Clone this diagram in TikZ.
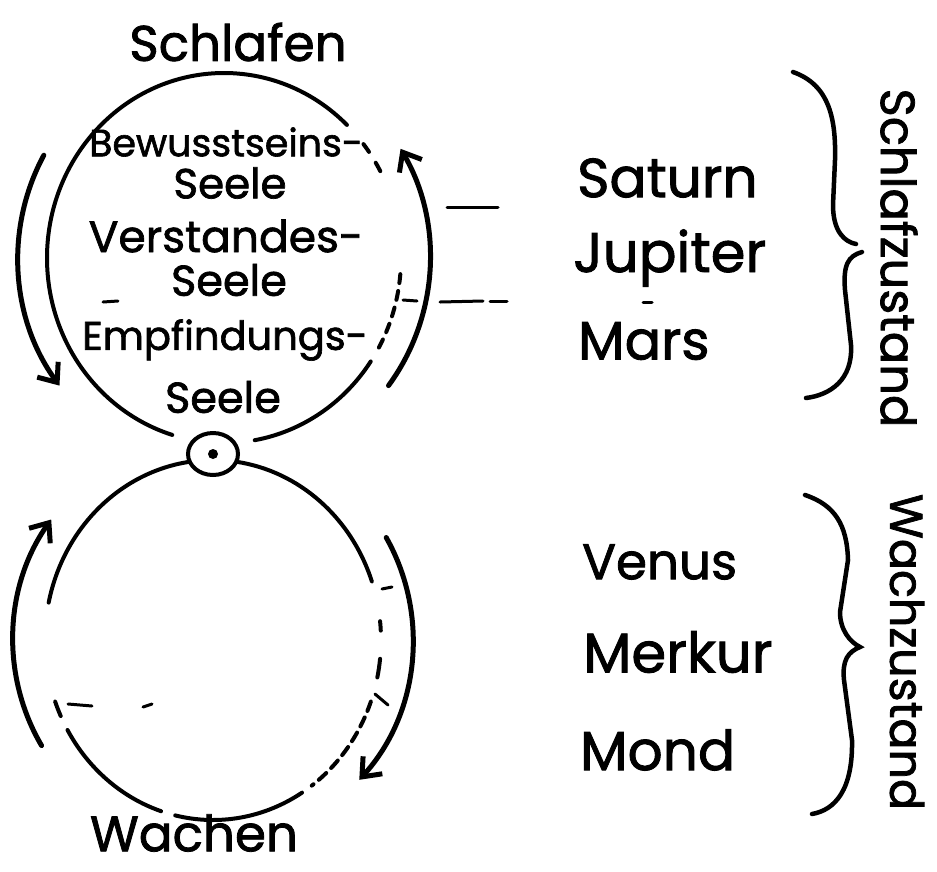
\documentclass[tikz,border=0pt]{standalone}
\usepackage{fontspec}
\newfontfamily\hand{Poppins}[FakeBold=1.6]
\usetikzlibrary{positioning,arrows.meta,shapes.geometric}

\begin{document}
\begin{tikzpicture}[x=1pt, y=-1pt, line cap=round,
  hw/.style={font=\hand\fontsize{#1}{#1}\selectfont, inner sep=0pt},
  ring/.style={line width=4pt},
  arr/.style={line width=5pt, -{Straight Barb[length=16pt, width=26pt]}},
  tickline/.style={line width=3pt},
  curly/.style={line width=4.5pt}]
\useasboundingbox (0,0) rectangle (937,871);
\coordinate (up) at (224,258);
\coordinate (lo) at (213,640);
\node[draw, ring, ellipse, minimum width=50pt, minimum height=42pt, inner sep=0pt] (eye) at (213,454) {};
\fill (eye.center) circle[radius=5];

% upper ring
\draw[ring] (up) ++(-46:177 and 185) arc[start angle=-46, end angle=-253, x radius=177, y radius=185];
\draw[ring] (up) ++(-38:177 and 185) arc[start angle=-38, end angle=-35, x radius=177, y radius=185];
\draw[ring] (up) ++(-31:177 and 185) arc[start angle=-31, end angle=-28, x radius=177, y radius=185];
\draw[ring, dash pattern=on 9pt off 8pt] (up) ++(5:177 and 185) arc[start angle=5, end angle=30, x radius=177, y radius=185];
\draw[ring] (up) ++(34:177 and 185) arc[start angle=34, end angle=80, x radius=177, y radius=185];

% lower ring
\draw[ring] (lo) ++(-98:168 and 180) arc[start angle=-98, end angle=-168, x radius=168, y radius=180];
\draw[ring] (lo) ++(155:168 and 180) arc[start angle=155, end angle=160, x radius=168, y radius=180];
\draw[ring] (lo) ++(108:168 and 180) arc[start angle=108, end angle=150, x radius=168, y radius=180];
\draw[ring] (lo) ++(58:168 and 180) arc[start angle=58, end angle=103, x radius=168, y radius=180];
\draw[ring, dash pattern=on 10pt off 7pt] (lo) ++(20:168 and 180) arc[start angle=20, end angle=54, x radius=168, y radius=180];
\draw[ring] (lo) ++(-6:168 and 180) arc[start angle=-6, end angle=-3, x radius=168, y radius=180];
\draw[ring] (lo) ++(6:168 and 180) arc[start angle=6, end angle=12, x radius=168, y radius=180];
\draw[ring] (lo) ++(-19:168 and 180) arc[start angle=-19, end angle=-82, x radius=168, y radius=180];

% arrows
\draw[arr] (up) ++(-151:206 and 212) arc[start angle=-151, end angle=-217, x radius=206, y radius=212];
\draw[arr] (up) ++(37:206 and 212) arc[start angle=37, end angle=-31, x radius=206, y radius=212];
\draw[arr] (lo) ++(149:200 and 205) arc[start angle=149, end angle=216, x radius=200, y radius=205];
\draw[arr] (lo) ++(-30:200 and 205) arc[start angle=-30, end angle=43, x radius=200, y radius=205];

% dividing marks
\foreach \xa/\ya/\xb/\yb in {447/207/498/207, 103/302/118/301, 403/300/417/301,
    440/302/483/301, 490/301/507/301, 643/302/652/302, 382/589/392/587,
    375/694/388/705, 68/704/92/706, 143/707/152/704}
  \draw[tickline] (\xa,\ya) -- (\xb,\yb);

\node[hw=50] (schlafen) at (238,42) {Schlafen};
\node[hw=38] (bew) at (226,142) {Bewusstseins-};
\node[hw=42] (seele1) at (230,183) {Seele};
\node[hw=44] (verst) at (226,236) {Verstandes-};
\node[hw=43] (seele2) at (229,280) {Seele};
\node[hw=40] (empf) at (225,340) {Empfindungs-};
\node[hw=43] (seele3) at (223,397) {Seele};
\node[hw=50] (wachen) at (194,833) {Wachen};

\node[hw=55, anchor=west] (saturn) at (577,178) {Saturn};
\node[hw=56, anchor=west] (jupiter) at (573,258) {Jupiter};
\node[hw=54, anchor=west] (mars) at (578,341) {Mars};
\node[hw=50, anchor=west] (venus) at (582,562) {Venus};
\node[hw=56, anchor=west] (merkur) at (583,652) {Merkur};
\node[hw=55, anchor=west] (mond) at (580,750) {Mond};

\draw[curly] (793,72) .. controls (830,85) and (836,120) .. (835,160) -- (833,205)
  .. controls (833,232) and (845,242) .. (856,244);
\draw[curly] (862,252) .. controls (848,256) and (843,265) .. (845,290) -- (851,345)
  .. controls (853,380) and (830,395) .. (806,398);
\draw[curly] (805,495) .. controls (835,505) and (847,525) .. (848,560) -- (840,612)
  .. controls (840,630) and (850,642) .. (860,647) .. controls (848,652) and (842,660) .. (844,680)
  -- (852,740) .. controls (853,790) and (835,810) .. (812,814);
\node[hw=48, rotate=-90] (schlafzustand) at (899,258) {Schlafzustand};
\node[hw=46, rotate=-90] (wachzustand) at (907,652) {Wachzustand};
\end{tikzpicture}
\end{document}
